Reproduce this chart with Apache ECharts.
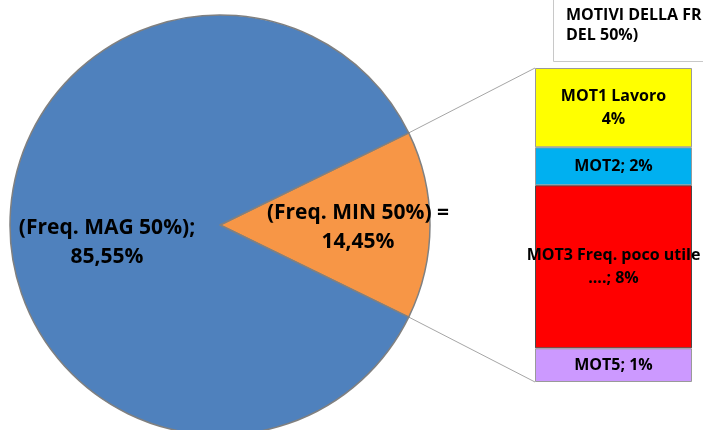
<!DOCTYPE html>
<html>
<head>
<meta charset="utf-8">
<script src="https://cdn.jsdelivr.net/npm/echarts@6/dist/echarts.min.js"></script>
<style>
html,body{margin:0;padding:0;background:#fff;}
#c{width:703px;height:430px;}
</style>
</head>
<body>
<div id="c"></div>
<script>
// ---- data ----
const pieNames = ['(Freq. MIN 50%) =', '(Freq. MAG 50%);'];
const pieValues = [14.45, 85.55];
const pieColors = ['#F79646', '#4F81BD'];

const motNames = ['MOT1 Lavoro', 'MOT2;', 'MOT3 Freq. poco utile\n....;', 'MOT5;'];
const motValues = [3.65, 1.75, 7.5, 1.55];
const motLabels = ['4%', '2%', '8%', '1%'];
const motColors = ['#FFFF00', '#00B0F0', '#FF0000', '#CC99FF'];
const motSeparators = ['\n', ' ', ' ', ' '];

const titleLines = ['MOTIVI DELLA FR', 'DEL 50%)'];

// ---- layout constants ----
const FONT = '"Open Sans", "Liberation Sans", sans-serif';
const pieCenter = [220, 225];
const pieRadius = 210;
const grid = {left: 535, top: 68, width: 157, height: 314};

const minorShare = pieValues[0] / pieValues.reduce((a, b) => a + b, 0);
const startAngle = minorShare * 360 / 2;
const barTotal = pieValues[0];

const chart = echarts.init(document.getElementById('c'), null, {renderer: 'canvas'});

const pieLabelShift = [[15, 1.5], [-2.5, 9]];

const barSeries = motValues.map((v, i) => ({
  type: 'bar',
  name: motNames[i],
  stack: 'mot',
  barWidth: '100%',
  data: [v],
  itemStyle: {
    color: motColors[i],
    borderColor: i === 2 ? '#4a4a4a' : '#9a9a9a',
    borderWidth: 1
  },
  label: {
    show: true,
    position: 'inside',
    color: '#000',
    fontFamily: FONT,
    fontWeight: 'bold',
    fontSize: 16,
    lineHeight: 23,
    align: 'center',
    formatter: () => motNames[i] + motSeparators[i] + motLabels[i]
  },
  emphasis: {disabled: true},
  silent: true,
  animation: false
}));

chart.setOption({
  animation: false,
  backgroundColor: '#fff',
  grid: Object.assign({containLabel: false}, grid),
  xAxis: {type: 'category', data: ['mot'], show: false},
  yAxis: {type: 'value', min: 0, max: barTotal, inverse: true, show: false},
  series: [
    {
      type: 'pie',
      center: pieCenter,
      radius: pieRadius,
      startAngle: startAngle,
      clockwise: true,
      silent: true,
      animation: false,
      data: pieValues.map((v, i) => ({
        name: pieNames[i],
        value: v,
        itemStyle: {color: pieColors[i]}
      })),
      itemStyle: {borderColor: '#808080', borderWidth: 1.5},
      label: {
        show: true,
        position: 'inside',
        color: '#000',
        fontFamily: FONT,
        fontWeight: 'bold',
        fontSize: 21,
        lineHeight: 29,
        align: 'center',
        formatter: p => p.name + '\n' + p.value.toFixed(2).replace('.', ',') + '%'
      },
      labelLine: {show: false},
      labelLayout: p => ({dx: pieLabelShift[p.dataIndex][0], dy: pieLabelShift[p.dataIndex][1]})
    }
  ].concat(barSeries)
});

// connector lines, derived from pie geometry and bar axis
const a = startAngle * Math.PI / 180;
const pUp = [pieCenter[0] + pieRadius * Math.cos(a), pieCenter[1] - pieRadius * Math.sin(a)];
const pDown = [pieCenter[0] + pieRadius * Math.cos(a), pieCenter[1] + pieRadius * Math.sin(a)];
const yTop = chart.convertToPixel({yAxisIndex: 0}, 0);
const yBot = chart.convertToPixel({yAxisIndex: 0}, barTotal);

chart.setOption({
  graphic: [
    {type: 'line', shape: {x1: pUp[0], y1: pUp[1], x2: grid.left, y2: yTop}, style: {stroke: '#a6a6a6', lineWidth: 1}, z: 1},
    {type: 'line', shape: {x1: pDown[0], y1: pDown[1], x2: grid.left, y2: yBot}, style: {stroke: '#a6a6a6', lineWidth: 1}, z: 1},
    {type: 'rect', shape: {x: 553.5, y: -30, width: 220, height: 91.5}, style: {fill: '#fff', stroke: '#c8c8c8', lineWidth: 1}, z: 10},
    {type: 'text', x: 566, y: 15, style: {text: titleLines[0], fill: '#000', font: 'bold 16px ' + FONT, textVerticalAlign: 'middle'}, z: 11},
    {type: 'text', x: 566, y: 35, style: {text: titleLines[1], fill: '#000', font: 'bold 16px ' + FONT, textVerticalAlign: 'middle'}, z: 11}
  ]
});
</script>
</body>
</html>
